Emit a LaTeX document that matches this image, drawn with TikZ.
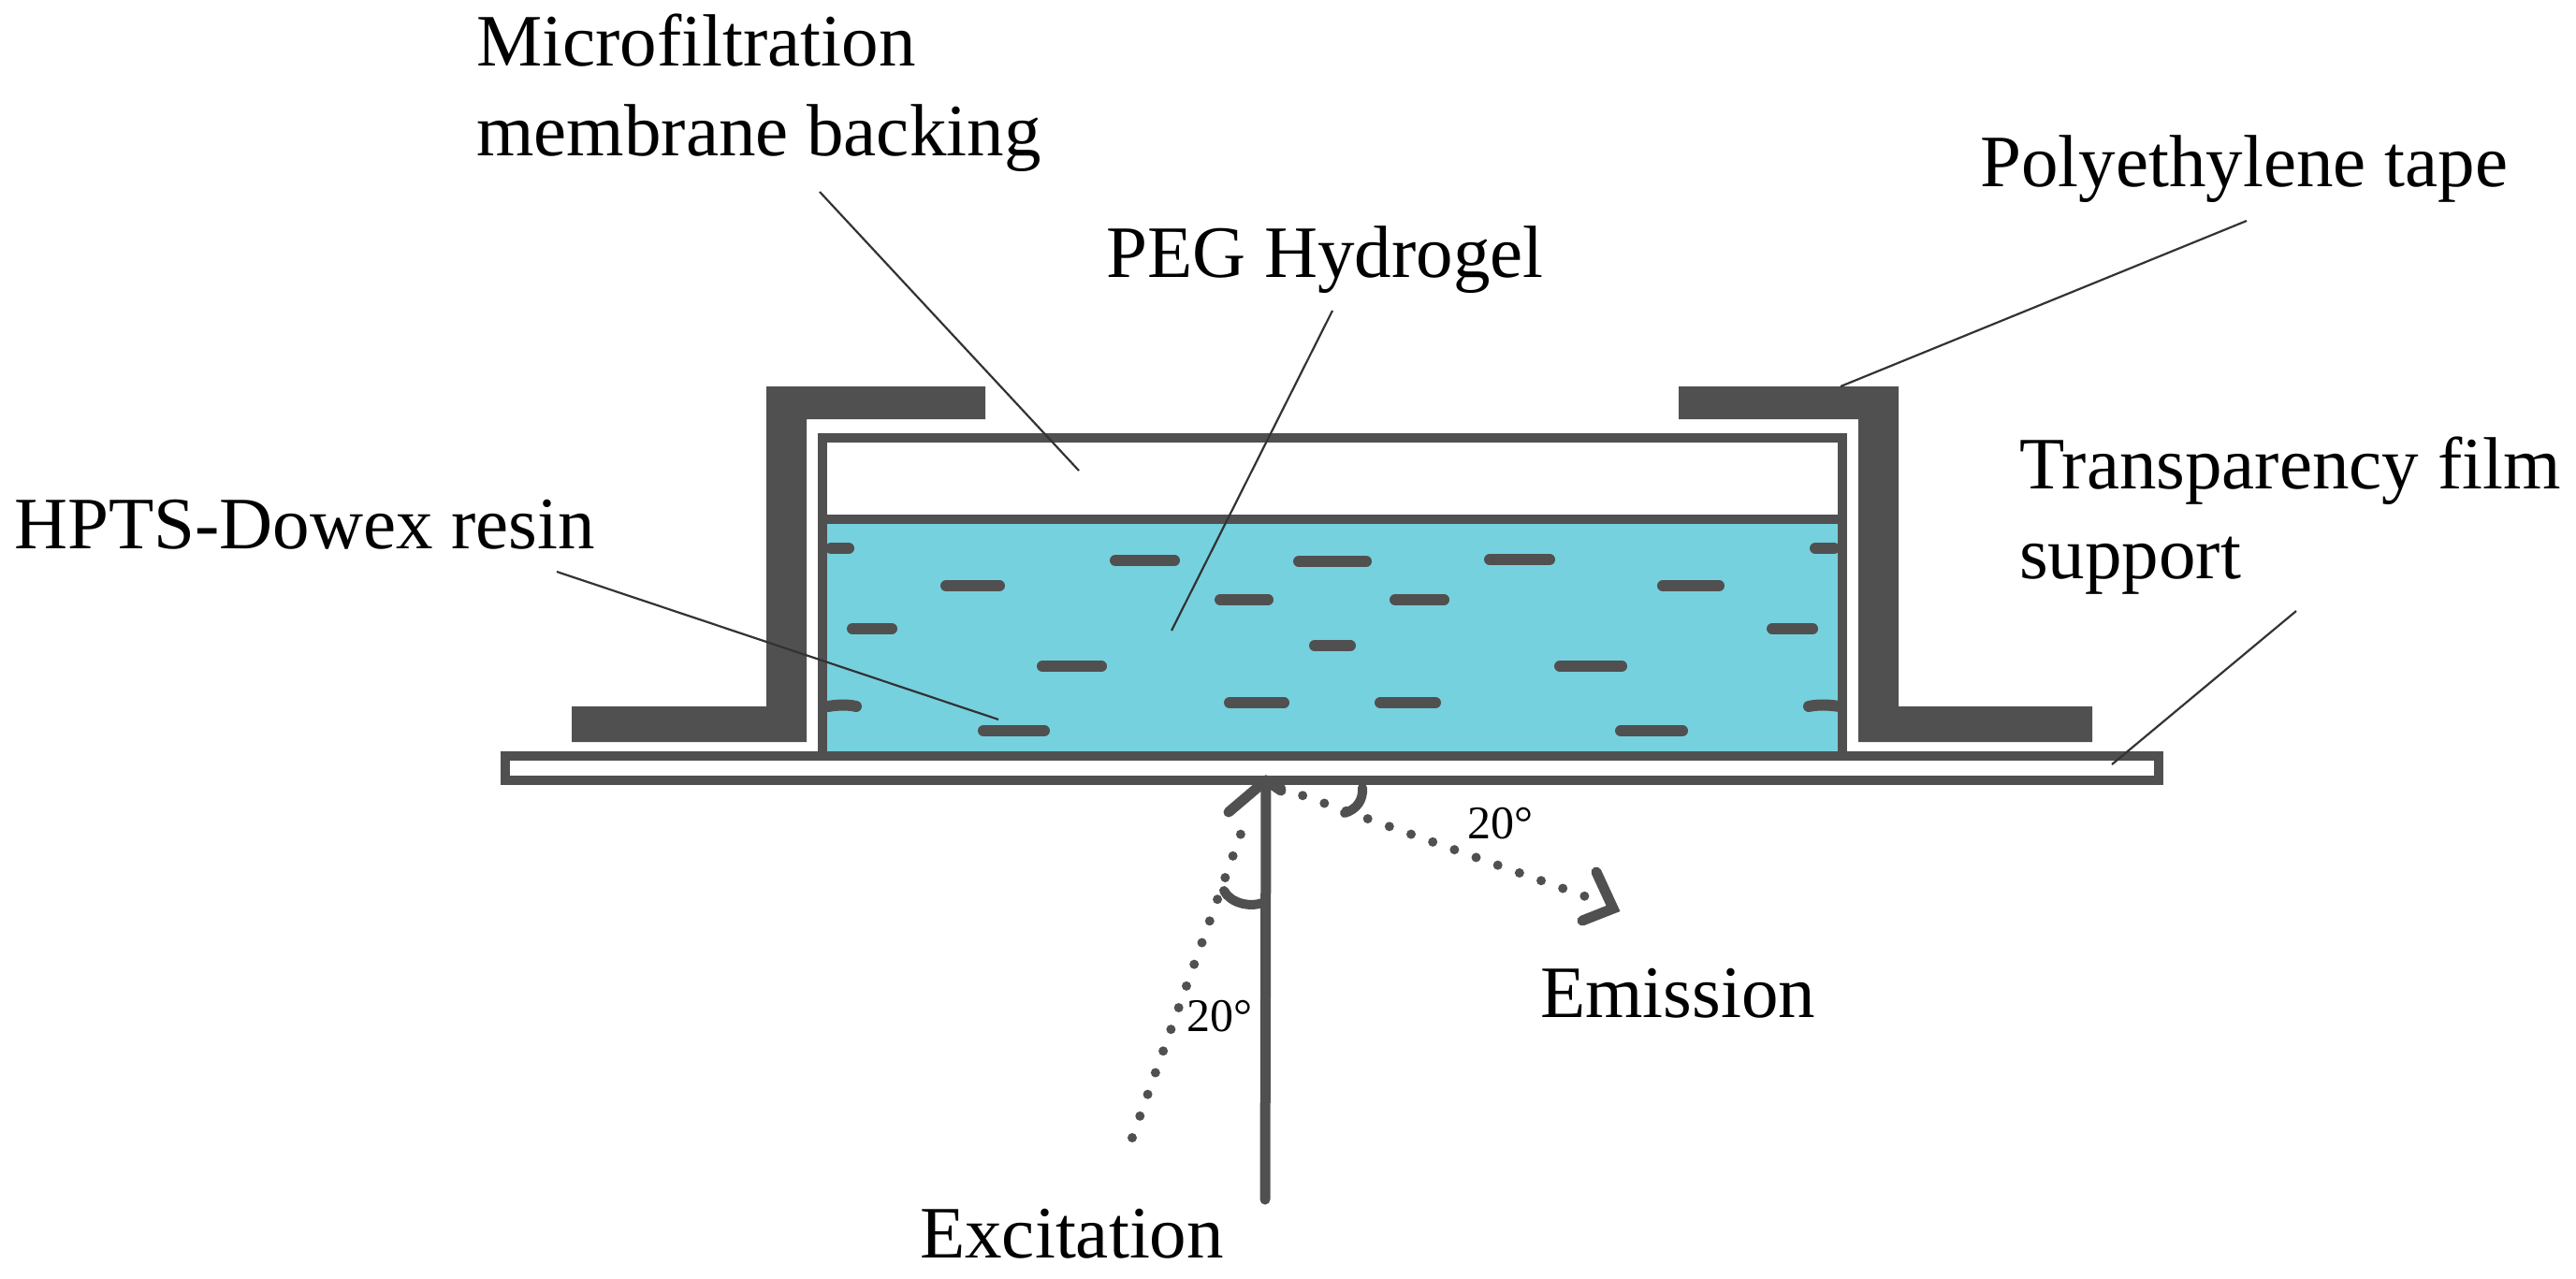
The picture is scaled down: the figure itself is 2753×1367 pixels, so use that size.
\documentclass[tikz,border=0pt]{standalone}
\usepackage{fontspec}
\setmainfont{Liberation Serif}
\usetikzlibrary{arrows.meta,positioning}
\definecolor{darkgrey}{HTML}{505050}
\definecolor{gelblue}{HTML}{76D1DE}
\tikzset{
      wall/.style={draw=darkgrey, line width=10.5pt, line join=miter},
      tape/.style={fill=darkgrey, draw=none},
      resin/.style={draw=darkgrey, line width=12pt, line cap=round},
      leader/.style={draw=black!80, line width=2.2pt},
      dotline/.style={draw=darkgrey, line width=10pt, line cap=round, dash pattern=on 0pt off 24.6pt},
      ray/.style={draw=darkgrey, line width=11pt, line cap=round, line join=miter},
      anglearc/.style={draw=darkgrey, line width=10pt, line cap=round},
      biglabel/.style={font=\fontsize{79}{96}\selectfont, align=left, inner sep=0pt, anchor=base west},
      anglelabel/.style={font=\fontsize{50}{60}\selectfont, inner sep=0pt, anchor=base west}
    }
\begin{document}
\begin{tikzpicture}[x=1pt,y=-1pt]
    \useasboundingbox (0,0) rectangle (2753,1367);
    % gel and membrane
    \fill[gelblue] (879,555) rectangle (1969,808);
    \foreach \xa/\xb/\yy in {1186/1261/599, 1005/1074/626, 905/959/672, 1108/1183/712, 1298/1361/641, 1308/1378/751, 1045/1122/781, 1382/1466/600, 1485/1549/641, 1586/1662/598, 1771/1843/626, 1888/1943/672, 1399/1449/690, 1661/1739/712, 1469/1540/751, 1726/1804/781, 882/913/586, 1934/1966/586}
      \draw[resin] (\xa+6,\yy) -- (\xb-6,\yy);
    \draw[resin] (885,755) .. controls (897,753) and (906,753) .. (915,755);
    \draw[resin] (1966,755) .. controls (1952,753) and (1942,753) .. (1933,755);
    \draw[wall] (879,808) -- (879,468) -- (1969,468) -- (1969,808);
    \draw[wall] (879,555) -- (1969,555);
    % film support
    \draw[wall] (540,808) rectangle (2307,834);
    % tape
    \fill[tape] (819,413) -- (1053,413) -- (1053,448) -- (862,448) -- (862,793) -- (611,793) -- (611,755) -- (819,755) -- cycle;
    \fill[tape] (2029,413) -- (1794,413) -- (1794,448) -- (1986,448) -- (1986,793) -- (2236,793) -- (2236,755) -- (2029,755) -- cycle;
    % labels
    \node[biglabel] (lblmembrane) at (509,167) {Microfiltration\\membrane backing};
    \node[biglabel] (lblpeg) at (1182,296) {PEG Hydrogel};
    \node[biglabel] (lbltape) at (2116,200) {Polyethylene tape};
    \node[biglabel] (lblfilm) at (2158,618) {Transparency film\\support};
    \node[biglabel] (lblresin) at (15,586) {HPTS-Dowex resin};
    \node[biglabel] (lblemission) at (1646,1087) {Emission};
    \node[biglabel] (lblexcitation) at (983,1344) {Excitation};
    \node[anglelabel] (lblangleem) at (1568,896) {20°};
    \node[anglelabel] (lblangleex) at (1268,1102) {20°};
    % leader lines
    \coordinate (mbstart) at (876,205);
    \coordinate (mbend) at (1153,503);
    \coordinate (pegstart) at (1424,332);
    \coordinate (pegend) at (1252,674);
    \coordinate (resinstart) at (595,611);
    \coordinate (resinend) at (1067,769);
    \coordinate (tapestart) at (2401,236);
    \coordinate (tapeend) at (1967,413);
    \coordinate (filmstart) at (2454,653);
    \coordinate (filmend) at (2257,817);
    \draw[leader] (mbstart) -- (mbend);
    \draw[leader] (pegstart) -- (pegend);
    \draw[leader] (resinstart) -- (resinend);
    \draw[leader] (tapestart) -- (tapeend);
    \draw[leader] (filmstart) -- (filmend);
    % rays
    \coordinate (extip) at (1353,834);
    \coordinate (exfoot) at (1352,1282);
    \coordinate (exdot) at (1210,1216);
    \coordinate (emdot) at (1694,958);
    \coordinate (emtip) at (1724,971);
    \draw[ray] (exfoot) -- (extip);
    \draw[ray] (1313,868) -- (extip);
    \draw[ray] (1369,845) -- (extip);
    \draw[dotline] (exdot) -- (1334,869);
    \draw[dotline] (1369,842) -- (emdot);
    \draw[ray] (1706,932) -- (emtip) -- (1691,984);
    % angle marks
    \draw[anglearc] (1308,952) .. controls (1315,965) and (1335,970) .. (1349,965);
    \draw[anglearc] (1456,842) .. controls (1457,855) and (1450,865) .. (1437,869);
\end{tikzpicture}
\end{document}
